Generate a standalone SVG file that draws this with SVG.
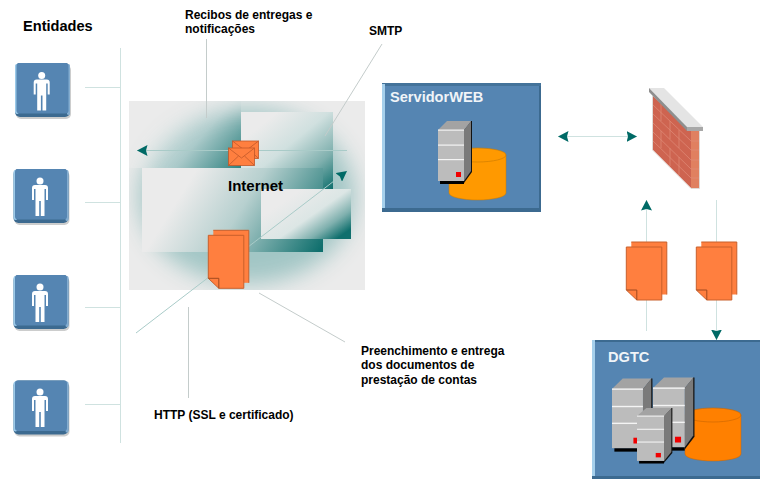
<svg xmlns="http://www.w3.org/2000/svg" width="760" height="479" viewBox="0 0 760 479">
<style>
text{font-family:"Liberation Sans",Arial,sans-serif;font-weight:bold;fill:#000}
.lab{font-size:12px}
.big{font-size:14.6px}
.wt{font-size:14.6px;fill:#f0f4f8}
.lt{stroke:#cfe2e0;stroke-width:1;fill:none}
.gr{stroke:#c4cccb;stroke-width:1;fill:none}
.ar{stroke:#a9cbc8;stroke-width:1;fill:none}
.doc{fill:#ff7f3f;stroke:#c8602c;stroke-width:1}
.env{fill:#ff7f3f;stroke:#c0582a;stroke-width:.8}
</style>
<defs>
<filter id="bl" x="-30%" y="-30%" width="160%" height="160%"><feGaussianBlur stdDeviation="11"/></filter>
<mask id="ell" maskUnits="userSpaceOnUse" x="120" y="90" width="260" height="210"><ellipse cx="247" cy="196" rx="108" ry="88" fill="#fff" filter="url(#bl)"/></mask>
<linearGradient id="g0" gradientUnits="userSpaceOnUse" x1="160" y1="105" x2="240" y2="172"><stop offset="0" stop-color="#dfe8e7"/><stop offset=".5" stop-color="#a9c9c9"/><stop offset="1" stop-color="#2a7f7d"/></linearGradient>
<linearGradient id="g1" gradientUnits="userSpaceOnUse" x1="265" y1="122" x2="325" y2="195"><stop offset="0" stop-color="#ebebeb"/><stop offset=".35" stop-color="#d0e0df"/><stop offset=".7" stop-color="#7fb0ae"/><stop offset="1" stop-color="#0f6f6d"/></linearGradient>
<linearGradient id="g2" gradientUnits="userSpaceOnUse" x1="190" y1="180" x2="315" y2="258"><stop offset="0" stop-color="#ebebeb"/><stop offset=".4" stop-color="#b7d0cf"/><stop offset="1" stop-color="#0f6f6d"/></linearGradient>
<linearGradient id="g3" gradientUnits="userSpaceOnUse" x1="300" y1="190" x2="335" y2="240"><stop offset="0" stop-color="#ebebeb"/><stop offset=".45" stop-color="#dce6e5"/><stop offset=".75" stop-color="#7fb0ae"/><stop offset="1" stop-color="#0f6f6d"/></linearGradient>
<marker id="ah" markerUnits="userSpaceOnUse" viewBox="0 0 11 11" markerWidth="11" markerHeight="11" refX="10.5" refY="5.5" orient="auto-start-reverse"><path d="M0,0 L10.5,5.5 L0,11 L1.5,5.5z" fill="#006a66"/></marker>
<g id="doc">
<rect x="5" y="-5" width="35.500" height="52.500" fill="#ff7f3f"/>
<path d="M5,-5 H40.500 V47.500" fill="none" stroke="#c8602c"/>
<path class="doc" d="M0,0 H35.500 V53 H10.500 L0,43z"/>
<path d="M0,43 H10.500 V53" fill="none" stroke="#a04a20"/>
</g>
<g id="env">
<rect class="env" x="0" y="0" width="26" height="17.500"/>
<path class="env" d="M0,0 L13,10 L26,0 M0,17.500 L10,8 M26,17.500 L16,8" style="fill:none"/>
</g>
<g id="srv">
<polygon points="2,51 26,51 26,54 2,54" fill="#000"/>
<polygon points="26,0 33,-9 34,-9 34,42 26,53" fill="#111"/>
<polygon points="26,0 33,-9 33,41 26,51" fill="#7a7a7a"/>
<polygon points="0,0 9,-9 33,-9 26,0" fill="#a3a3a3"/>
<rect x="0" y="0" width="26" height="51" fill="#bcbcbc"/>
<rect x="0" y="-.5" width="26" height="1.200" fill="#f4f4f4"/>
<rect x="0" y="14.500" width="26" height="1.200" fill="#f4f4f4"/>
<rect x="0" y="29" width="26" height="1.200" fill="#f4f4f4"/>
<rect x="18" y="42" width="5" height="5" fill="#f00000"/>
</g>
<g id="usr">
<path d="M-8,3 Q-8,0 -5,0 H5 Q8,0 8,3 V15 H6 V4 H4.500 V31 H.8 V16 H-.8 V31 H-4.500 V4 H-6 V15 H-8z" fill="#fff"/>
<circle cx="0" cy="-4" r="3.500" fill="#fff"/>
</g>
<g id="tile">
<rect x="1" y="2" width="55" height="54" rx="5" fill="#55585a" opacity=".3"/>
<rect x="0" y="0" width="55" height="54" rx="5" fill="#3c6a90"/>
<rect x="0" y="1" width="4" height="50" rx="2" fill="#9bc9e8"/>
<rect x="52" y="1" width="3" height="51" rx="1.500" fill="#84add0"/>
<rect x="1.500" y="0" width="52" height="50.500" rx="3" fill="#5585b2"/>
</g>
</defs>

<g id="internet">
<rect x="129" y="101" width="236" height="189" fill="#ebebeb"/>
<g mask="url(#ell)">
<rect x="129" y="101" width="236" height="189" fill="#a2c6c5"/>
<rect x="129" y="101" width="112" height="67" fill="url(#g0)"/>
</g>
<rect x="241" y="112" width="92" height="84" fill="url(#g1)"/>
<rect x="142" y="168" width="181" height="84" fill="url(#g2)"/>
<rect x="261" y="189" width="90" height="50" fill="url(#g3)"/>
</g>

<g id="connectors">
<path class="lt" d="M120.500,48 V443 M85,87.500 H120 M85,202.500 H120 M85,307.500 H120 M85,404.500 H120"/>
<path class="gr" d="M206.500,39 V118 M382,44 L325,136 M188.500,307 V398 M259,293 L345,342"/>
<path class="ar" d="M347,150.500 H137" marker-end="url(#ah)"/>
<path class="ar" d="M136,333 L347,171" marker-end="url(#ah)"/>
<path class="lt" d="M558,136.500 H637" marker-start="url(#ah)" marker-end="url(#ah)"/>
<path class="lt" d="M646.500,331 V200" marker-end="url(#ah)"/>
<path class="lt" d="M716.500,200 V340" marker-end="url(#ah)"/>
</g>

<g id="cloud-docs">
<use href="#doc" x="208.300" y="235.300"/>
<use href="#env" x="232.500" y="141"/>
<use href="#env" x="228.500" y="148"/>
<text x="228" y="191" style="font-size:15px">Internet</text>
</g>

<g id="ent1"><use href="#tile" x="15" y="63"/><use href="#usr" x="41.700" y="79.500"/></g>
<g id="ent2"><use href="#tile" x="13.500" y="169"/><use href="#usr" x="40" y="185"/></g>
<g id="ent3"><use href="#tile" x="13.500" y="275"/><use href="#usr" x="40" y="291"/></g>
<g id="ent4"><use href="#tile" x="13.500" y="380.500"/><use href="#usr" x="40" y="396"/></g>

<g id="servidorweb">
<rect x="382" y="84" width="159" height="128" fill="#3c6a90"/>
<rect x="382" y="83" width="159" height="3" fill="#44739a"/>
<rect x="382" y="84" width="3" height="124" fill="#a6d0ec"/>
<rect x="385" y="86" width="154" height="122" fill="#5585b2"/>
<text x="390" y="102" class="wt">ServidorWEB</text>
<path d="M449,155 V193 A28.500,7 0 0 0 506,193 V155z" fill="#ff9900" stroke="#c87800" stroke-width=".5"/>
<ellipse cx="477.500" cy="155" rx="28.500" ry="7" fill="#ff9900" stroke="#c87800" stroke-width=".6"/>
<use href="#srv" x="438" y="130"/>
</g>

<g id="firewall">
<polygon points="653,96 691,131 691,188 653,150" fill="#ce6450"/>
<polygon points="691,131 699,131 699,188 691,188" fill="#e08060"/>
<path d="M653,105 L691,141 M653,114 L691,150 M653,123 L691,160 M653,132 L691,169 M653,141 L691,178 M661,104 V121 M670,121 V139 M679,130 V148 M661,131 V148 M670,148 V166 M679,157 V175 M691,141 H699 M691,150 H699 M691,160 H699 M691,169 H699 M691,178 H699" stroke="#e08d7a" stroke-width=".7" fill="none"/>
<path d="M652.500,96 V150 L691,188.500 H699.500 V131" stroke="#d8d0cc" stroke-width=".8" fill="none"/>
<polygon points="649,88 664,88 703,127 687,127" fill="#e4e4e4"/>
<polygon points="649,88 687,127 687,131 649,92" fill="#8f8f8f"/>
<polygon points="687,127 703,127 703,131 687,131" fill="#a8a8a8"/>
</g>

<g id="doc-up"><use href="#doc" x="626.300" y="247"/></g>
<g id="doc-down"><use href="#doc" x="696.300" y="247"/></g>

<g id="dgtc">
<rect x="592" y="340" width="168" height="139" fill="#3c6a90"/>
<rect x="592" y="340" width="3" height="136" fill="#a6d0ec"/>
<rect x="595" y="342" width="165" height="134" fill="#5585b2"/>
<text x="608" y="362" class="wt">DGTC</text>
<path d="M685,415 V454 A28,7 0 0 0 741,454 V415z" fill="#ff8000" stroke="#c86400" stroke-width=".5"/>
<ellipse cx="713" cy="415" rx="28" ry="7" fill="#ff8000" stroke="#c86400" stroke-width=".6"/>
<use href="#srv" transform="translate(612,389) scale(1.190,1.160)"/>
<use href="#srv" transform="translate(653,388) scale(1.220,1.160)"/>
<use href="#srv" transform="translate(637,416) scale(1.040,.880)"/>
</g>

<g id="labels">
<text x="23" y="31" class="big">Entidades</text>
<text x="185" y="19" class="lab">Recibos de entregas e</text>
<text x="185" y="33" class="lab">notificações</text>
<text x="369" y="35" class="lab">SMTP</text>
<text x="361" y="355" class="lab">Preenchimento e entrega</text>
<text x="361" y="369" class="lab">dos documentos de</text>
<text x="361" y="384" class="lab">prestação de contas</text>
<text x="154" y="419" class="lab">HTTP (SSL e certificado)</text>
</g>
</svg>
